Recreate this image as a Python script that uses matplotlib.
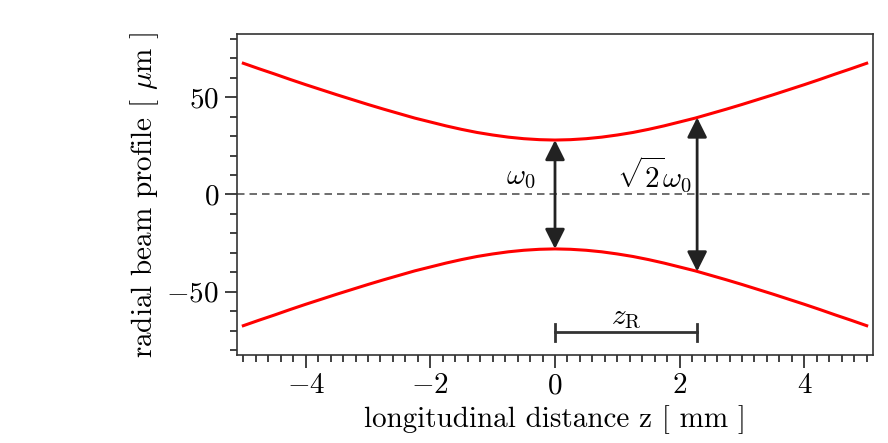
import matplotlib
matplotlib.use("Agg")
import matplotlib.pyplot as plt

plt.rcParams['font.family'] = 'serif'
plt.rcParams['font.serif'] = ['cmr10']
plt.rcParams['mathtext.fontset'] = 'cm'
plt.rcParams['axes.formatter.use_mathtext'] = True

# beam radius (um), z in mm
z = [-5.0, -4.75, -4.5, -4.25, -4.0, -3.75, -3.5, -3.25, -3.0, -2.75, -2.5,
     -2.25, -2.0, -1.75, -1.5, -1.25, -1.0, -0.75, -0.5, -0.25, 0.0,
     0.25, 0.5, 0.75, 1.0, 1.25, 1.5, 1.75, 2.0, 2.25, 2.5,
     2.75, 3.0, 3.25, 3.5, 3.75, 4.0, 4.25, 4.5, 4.75, 5.0]
w_upper = [67.5, 64.7, 62.0, 59.2, 56.5, 53.9, 51.3, 48.8, 46.3, 43.9, 41.6,
           39.3, 37.3, 35.3, 33.5, 31.9, 30.6, 29.5, 28.7, 28.2, 28.0,
           28.2, 28.7, 29.5, 30.6, 31.9, 33.5, 35.3, 37.3, 39.3, 41.6,
           43.9, 46.3, 48.8, 51.3, 53.9, 56.5, 59.2, 62.0, 64.7, 67.5]
w_lower = [-67.5, -64.7, -62.0, -59.2, -56.5, -53.9, -51.3, -48.8, -46.3, -43.9, -41.6,
           -39.3, -37.3, -35.3, -33.5, -31.9, -30.6, -29.5, -28.7, -28.2, -28.0,
           -28.2, -28.7, -29.5, -30.6, -31.9, -33.5, -35.3, -37.3, -39.3, -41.6,
           -43.9, -46.3, -48.8, -51.3, -53.9, -56.5, -59.2, -62.0, -64.7, -67.5]

w0 = 28.0      # waist
zR = 2.28      # rayleigh length
w_zR = 39.6    # sqrt(2) * w0

xticks = [-4, -2, 0, 2, 4]
yticks = [-50, 0, 50]

FS = 21

fig = plt.figure(figsize=(8.88, 4.43), dpi=100)
ax = fig.add_axes([0.267, 0.199, 0.716, 0.724])

ax.plot(z, w_upper, color='#ff0000', lw=2.2)
ax.plot(z, w_lower, color='#ff0000', lw=2.2)
ax.axhline(0, color='#555555', lw=1.2, ls=(0, (4.5, 3)))

arrow = dict(arrowstyle='<|-|>', mutation_scale=30, lw=2.0, color='#222222',
             shrinkA=0, shrinkB=0)
ax.annotate('', xy=(0, w0), xytext=(0, -w0), arrowprops=arrow)
ax.annotate('', xy=(zR, w_zR), xytext=(zR, -w_zR), arrowprops=arrow)
ax.text(-0.55, 8.5, r'$\omega_0$', fontsize=FS, ha='center', va='center')
ax.text(1.6, 10, r'$\sqrt{2}\omega_0$', fontsize=FS, ha='center', va='center')

# z_R bar
ax.plot([0, zR], [-71, -71], color='#333333', lw=2.0)
ax.plot([0, 0], [-75.5, -66.5], color='#333333', lw=2.0)
ax.plot([zR, zR], [-75.5, -66.5], color='#333333', lw=2.0)
ax.text(zR / 2, -63.5, r'$z_{\mathrm{R}}$', fontsize=FS, ha='center', va='center')

ax.set_xlim(-5.1, 5.1)
ax.set_ylim(-82.5, 82.5)
ax.set_xticks(xticks)
ax.set_yticks(yticks)
ax.xaxis.set_minor_locator(matplotlib.ticker.MultipleLocator(0.2))
ax.yaxis.set_minor_locator(matplotlib.ticker.MultipleLocator(10))
ax.tick_params(which='major', direction='out', length=9, width=1.3,
               color='#333333', labelsize=FS, pad=4)
ax.tick_params(which='minor', direction='out', length=5, width=1.3,
               color='#333333')
for s in ax.spines.values():
    s.set_color('#333333')
    s.set_linewidth(1.2)

ax.set_xlabel('longitudinal distance z [ mm ]', fontsize=FS, labelpad=4)
ax.set_ylabel(r'radial beam profile [ $\mu$m ]', fontsize=FS, labelpad=4)

fig.savefig('out.png', dpi=100)
